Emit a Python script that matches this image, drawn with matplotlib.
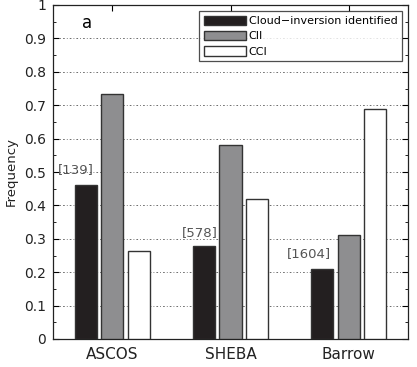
import matplotlib.pyplot as plt
import numpy as np
from matplotlib.ticker import MultipleLocator

# Data
sites = ["ASCOS", "SHEBA", "Barrow"]
cloud_inv = [0.461, 0.277, 0.209]
cii = [0.734, 0.581, 0.312]
cci = [0.264, 0.419, 0.688]
counts = ["[139]", "[578]", "[1604]"]
count_y = [0.506, 0.32, 0.257]
count_x = [0.69, 1.74, 2.66]

series_names = ["Cloud\u2212inversion identified", "CII", "CCI"]
colors = ["#231f20", "#8e8e90", "white"]

plt.rcParams['font.family'] = ['DejaVu Sans']

fig = plt.figure(figsize=(4.17, 3.67), dpi=100)
ax = fig.add_axes([53 / 417, 1 - 339 / 367, 355 / 417, 334 / 367])

x = np.arange(1, len(sites) + 1)
offset = 0.225
width = 0.186
for i, (vals, name, col) in enumerate(zip([cloud_inv, cii, cci], series_names, colors)):
    ax.bar(x + (i - 1) * offset, vals, width, color=col, edgecolor="#333333",
           linewidth=1.0, label=name, zorder=3)

# number of profiles per site
for cx, cy, txt in zip(count_x, count_y, counts):
    ax.text(cx, cy, txt, ha='center', va='center', fontsize=9.5, color='#555555', zorder=4)

ax.text(0.79, 0.945, "a", fontsize=12, ha='center', va='center')

ax.set_xlim(0.5, 3.5)
ax.set_ylim(0, 1)
ax.set_xticks(x)
ax.set_xticklabels(sites, fontsize=11, color='#222222')
ax.set_yticks(np.arange(0, 1.01, 0.1))
ax.set_yticklabels(["0"] + ["%.1f" % v for v in np.arange(0.1, 0.95, 0.1)] + ["1"],
                   fontsize=10, color='#222222')
ax.yaxis.set_minor_locator(MultipleLocator(0.05))
ax.tick_params(direction='in', top=True, right=True, which='both', length=4)
ax.tick_params(which='minor', length=2.5)
ax.tick_params(axis='x', pad=6)
ax.tick_params(axis='y', pad=5)
ax.set_ylabel("Frequency", fontsize=9.5, color='#222222')
ax.yaxis.set_label_coords(-35 / 355, 0.5)

ax.yaxis.grid(True, linestyle=(0, (1, 2.5, 2, 2.5)), color='#555555', linewidth=0.6, zorder=0)
ax.set_axisbelow(True)
for s in ax.spines.values():
    s.set_color('#222222')
    s.set_linewidth(0.9)

leg = ax.legend(loc='upper right', fontsize=8, frameon=True, fancybox=False,
                edgecolor='#222222', handlelength=3.8, handleheight=0.9,
                borderaxespad=0.55, labelspacing=0.45, handletextpad=0.25,
                borderpad=0.4)
leg.get_frame().set_linewidth(0.9)

fig.savefig("out.png", dpi=100)
